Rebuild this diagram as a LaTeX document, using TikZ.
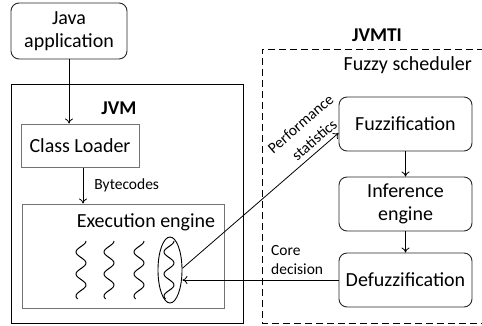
\documentclass[tikz,border=0pt]{standalone}
\usepackage{fontspec}
\setmainfont{Carlito}
\usetikzlibrary{arrows.meta,shapes.geometric}

\begin{document}
\begin{tikzpicture}[x=1pt,y=-1pt,
  every node/.style={font=\fontsize{20}{23.5}\selectfont, inner sep=0pt},
  rbox/.style={draw=black!85, rounded corners=8pt, line width=0.9pt, align=center,
               minimum width=133pt, minimum height=54pt},
  gbox/.style={draw=black!55, line width=1pt},
  lbl/.style={font=\fontsize{15.5}{18.5}\selectfont, align=left},
  ttl/.style={font=\fontsize{19.5}{23}\selectfont\bfseries},
  arr/.style={-{To[length=5pt,width=8pt]}, line width=0.8pt},
  wave/.style={line width=1pt},
  outer/.style={draw, line width=1pt},
  dashbox/.style={draw, line width=1pt, dash pattern=on 7pt off 4pt},
]
\useasboundingbox (0,0) rectangle (482,325);

% application and virtual machine
\node[rbox, minimum width=116pt, minimum height=56pt] (java) at (69,31) {Java\\application};
\node[outer, minimum width=232pt, minimum height=239pt] (jvmbox) at (127,203.5) {};
\node[ttl] (jvm) at (119,108) {JVM};
\node[gbox, minimum width=118pt, minimum height=43pt] (cl) at (80,145.5) {Class Loader};
\node[gbox, minimum width=202pt, minimum height=104pt] (exec) at (123,256) {};
\node (exectitle) at (146,222) {Execution engine};

% threads inside the execution engine
\foreach \xx in {81,109,139,169}
  \draw[wave] plot[smooth, domain=0:58, samples=60] ({\xx+5*cos(\x/22*360)}, {241+\x});
\node[draw, ellipse, line width=0.9pt, minimum width=24pt, minimum height=66pt] (sel) at (170,270) {};

% tool interface with the fuzzy scheduler
\draw[dashbox] (495,49) -- (262,49) -- (262,323) -- (495,323);
\node[ttl] (jvmti) at (377,35) {JVMTI};
\node[anchor=east] (fsch) at (472,65) {Fuzzy scheduler};
\node[rbox] (fuzz) at (405.5,124) {Fuzzification};
\node[rbox] (inf) at (405.5,204) {Inference\\engine};
\node[rbox] (defuzz) at (405.5,280) {Defuzzification};

% connectors
\draw[arr] (java.south) -- (java.south |- cl.north);
\draw[arr] ([xshift=3pt]cl.south) -- ([xshift=3pt]cl.south |- exec.north)
  node[lbl, midway, anchor=west, xshift=11pt] (bc) {Bytecodes};
\draw[arr] (sel.8) -- node[lbl, font=\fontsize{15.5}{21}\selectfont, align=center, sloped, above=5pt, pos=0.89] (perf) {Performance\\statistics}
  ([yshift=-9pt]fuzz.west);
\draw[arr] (fuzz.south) -- (inf.north);
\draw[arr] (inf.south) -- (defuzz.north);
\draw[arr] (defuzz.west) -- (sel.east |- defuzz.west);
\node[lbl, anchor=west] (core) at (271,260) {Core\\decision};
\end{tikzpicture}
\end{document}
